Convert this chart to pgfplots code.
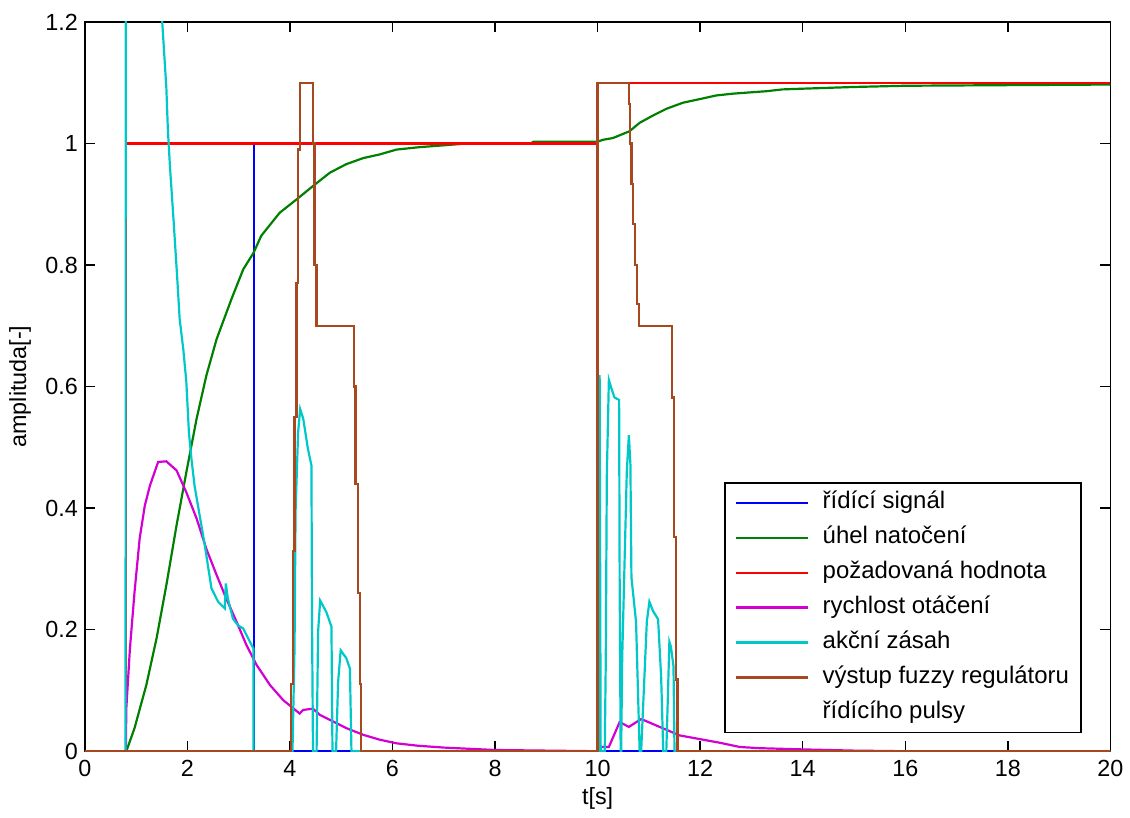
\documentclass[border=0pt]{standalone}
\usepackage{fontspec}
\setmainfont{Liberation Sans}
\usepackage{pgfplots}
\pgfplotsset{compat=1.18}
\definecolor{mblue}{RGB}{0,0,255}
\definecolor{mgreen}{RGB}{0,128,0}
\definecolor{mred}{RGB}{255,0,0}
\definecolor{mmag}{RGB}{210,0,210}
\definecolor{mcyan}{RGB}{0,200,200}
\definecolor{mbrown}{RGB}{168,72,30}
\begin{document}
\begin{tikzpicture}
\begin{axis}[
  scale only axis, width=514pt, height=365.5pt,
  xmin=0, xmax=20, ymin=0, ymax=1.2,
  xtick={0,2,4,6,8,10,12,14,16,18,20},
  ytick={0,0.2,0.4,0.6,0.8,1,1.2},
  tick align=inside, major tick length=5pt,
  xtick pos=both, ytick pos=both,
  axis line style={line width=0.75pt, black},
  tick style={line width=0.75pt, black},
  font=\fontsize{11.7}{14}\selectfont,
  /pgf/number format/assume math mode=true,
  xticklabel style={yshift=-1pt},
  xlabel={t[s]}, ylabel={amplituda[-]},
  every axis x label/.style={at={(axis description cs:0.5,-0.0643)}, anchor=center},
  every axis y label/.style={at={(axis description cs:-0.0632,0.5)}, anchor=center, rotate=90},
  legend cell align=left,
  legend image code/.code={\draw[#1] (0pt,0pt) -- (36pt,0pt);},
  legend style={at={(rel axis cs:0.972,0.369)}, anchor=north east,
    draw=black, line width=0.75pt, inner xsep=5pt, inner ysep=3.5pt,
    row sep=4.5pt, column sep=6pt,
    nodes={text height=8.5pt, text depth=2.5pt, inner sep=1pt},
    font=\fontsize{12}{14}\selectfont},
  every axis plot/.append style={line width=1.1pt, line join=miter},
]
% blue: ridici signal
\addplot[mblue] coordinates {(0,0) (0.8,0) (0.8,1) (3.3,1) (3.3,0) (20,0)};
\addlegendentry{řídící signál}
% green: uhel natoceni
\addplot[mgreen] coordinates {
(0,0) (0.81,0) (0.97,0.038) (1.2,0.109) (1.4,0.186) (1.59,0.273) (1.79,0.372)
(1.98,0.459) (2.18,0.547) (2.37,0.618) (2.57,0.678) (2.86,0.744) (3.09,0.793)
(3.29,0.820) (3.44,0.848) (3.8,0.886) (4.13,0.908) (4.45,0.930) (4.78,0.952)
(5.1,0.966) (5.43,0.976) (5.75,0.982) (6.08,0.990) (6.53,0.994) (7.0,0.997)
(7.3,0.999) (7.4,1.0) (8.7,1.0) (8.75,1.003) (10.0,1.003) (10.1,1.006)
(10.3,1.009) (10.62,1.02) (10.82,1.034) (11.08,1.046) (11.34,1.057) (11.66,1.067)
(11.99,1.073) (12.31,1.079) (12.64,1.082) (12.96,1.084) (13.29,1.086) (13.61,1.089)
(13.94,1.09) (15,1.093) (16,1.095) (18,1.096) (20,1.097)};
\addlegendentry{úhel natočení}
% red: pozadovana hodnota
\addplot[mred] coordinates {(0,0) (0.8,0) (0.8,1) (10,1) (10,1.1) (20,1.1)};
\addlegendentry{požadovaná hodnota}
% magenta: rychlost otaceni
\addplot[mmag] coordinates {
(0,0) (0.8,0) (0.81,0.071) (0.88,0.169) (0.97,0.262) (1.07,0.35) (1.17,0.404)
(1.27,0.437) (1.43,0.476) (1.59,0.477) (1.79,0.462) (1.98,0.426) (2.18,0.383)
(2.37,0.333) (2.57,0.29) (2.76,0.251) (2.96,0.213) (3.15,0.175) (3.35,0.142)
(3.61,0.109) (3.87,0.084) (4.03,0.073) (4.19,0.062) (4.26,0.068) (4.45,0.070)
(4.58,0.06) (4.84,0.049) (5.1,0.038) (5.43,0.027) (5.75,0.019) (6.08,0.013)
(6.5,0.009) (7,0.006) (7.5,0.004) (8,0.002) (9,0.001) (10,0) (10.04,0.007)
(10.22,0.007) (10.43,0.048) (10.61,0.04) (10.85,0.053) (11.21,0.04) (11.6,0.026)
(11.99,0.02) (12.38,0.014) (12.77,0.007) (13.16,0.005) (14,0.003) (15,0.001)
(16,0) (20,0)};
\addlegendentry{rychlost otáčení}
% cyan: akcni zasah
\addplot[mcyan] coordinates {
(0,0) (0.795,0) (0.8,2.6) (1.0,2.1) (1.2,1.7) (1.4,1.36) (1.51,1.2) (1.59,1.092)
(1.62,1.023) (1.66,0.963) (1.73,0.875) (1.80,0.782) (1.85,0.711) (1.92,0.662)
(1.98,0.608) (2.03,0.525) (2.08,0.481) (2.14,0.437) (2.24,0.388) (2.34,0.339)
(2.40,0.306) (2.47,0.268) (2.60,0.246) (2.73,0.235) (2.75,0.276) (2.79,0.251)
(2.89,0.218) (2.99,0.207) (3.09,0.202) (3.22,0.180) (3.29,0.169) (3.29,0)
(4.05,0) (4.09,0.169) (4.11,0.394) (4.16,0.525) (4.20,0.563) (4.26,0.547)
(4.35,0.498) (4.42,0.47) (4.43,0.229) (4.45,0) (4.52,0) (4.55,0.197) (4.59,0.248)
(4.71,0.229) (4.81,0.205) (4.83,0) (4.90,0) (4.94,0.114) (4.99,0.166) (5.10,0.153)
(5.17,0.136) (5.20,0) (10.02,0) (10.04,0.619) (10.06,0) (10.14,0) (10.16,0.154)
(10.18,0.454) (10.22,0.611) (10.27,0.597) (10.33,0.582) (10.42,0.578) (10.43,0.286)
(10.45,0) (10.46,0) (10.48,0.154) (10.57,0.461) (10.61,0.52) (10.64,0.472)
(10.66,0.286) (10.75,0.213) (10.82,0) (10.85,0) (10.96,0.213) (11.01,0.246)
(11.08,0.231) (11.18,0.217) (11.24,0.121) (11.28,0) (11.34,0) (11.37,0.088)
(11.40,0.180) (11.43,0.172) (11.48,0.14) (11.50,0) (20,0)};
\addlegendentry{akční zásah}
% brown: vystup fuzzy regulatoru
\addplot[mbrown] coordinates {
(0,0) (4.02,0) (4.02,0.11) (4.06,0.11) (4.06,0.33) (4.09,0.33) (4.09,0.55)
(4.13,0.55) (4.13,0.77) (4.16,0.77) (4.16,0.99) (4.19,0.99) (4.19,1.1) (4.45,1.1)
(4.45,1.0) (4.48,1.0) (4.48,0.8) (4.52,0.8) (4.52,0.7) (5.25,0.7) (5.25,0.6)
(5.28,0.6) (5.28,0.44) (5.32,0.44) (5.32,0.26) (5.36,0.26) (5.36,0.11) (5.39,0.11)
(5.39,0) (10,0) (10,1.1) (10.61,1.1) (10.61,1.065) (10.63,1.065) (10.63,1.0)
(10.66,1.0) (10.66,0.933) (10.69,0.933) (10.69,0.867) (10.73,0.867) (10.73,0.8)
(10.77,0.8) (10.77,0.736) (10.81,0.736) (10.81,0.7) (11.45,0.7) (11.45,0.582)
(11.49,0.582) (11.49,0.352) (11.53,0.352) (11.53,0.118) (11.56,0.118) (11.56,0)
(20,0)};
\addlegendentry{výstup fuzzy regulátoru}
\addlegendimage{legend image code/.code={}}
\addlegendentry{řídícího pulsy}
\end{axis}
\path (current axis.south west) ++(-42.5pt,-33pt) coordinate (bl);
\path (current axis.north east) ++(8.5pt,11pt) coordinate (tr);
\useasboundingbox (bl) rectangle (tr);
\end{tikzpicture}
\end{document}
